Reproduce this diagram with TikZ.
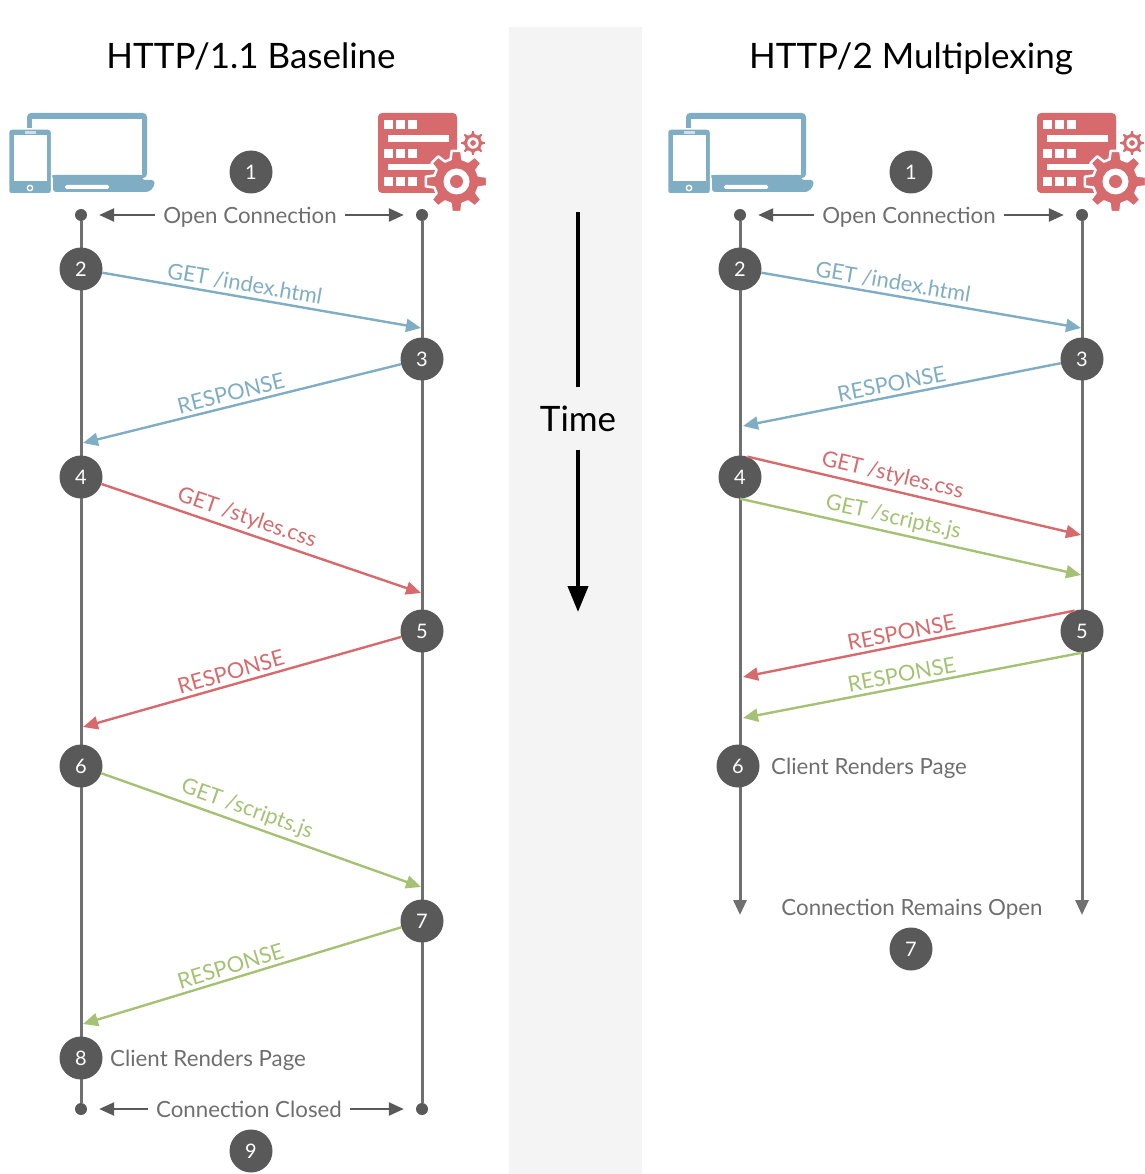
\documentclass[tikz,border=0pt]{standalone}
\usepackage{fontspec}
\setmainfont{Lato}
\usetikzlibrary{arrows.meta}
\definecolor{blueline}{HTML}{7FADC3}
\definecolor{redline}{HTML}{D66A6D}
\definecolor{greenline}{HTML}{A5C274}
\definecolor{darkbadge}{HTML}{595959}
\definecolor{laneline}{HTML}{707070}
\definecolor{greytext}{HTML}{6E6E6E}
\definecolor{bandgrey}{HTML}{F4F4F4}
\tikzset{
  badge/.style={circle,fill=darkbadge,text=white,minimum size=43pt,inner sep=0pt,font=\fontsize{20}{20}\selectfont},
  dot/.style={circle,fill=darkbadge,minimum size=12pt,inner sep=0pt},
  lane/.style={draw=laneline,line width=3pt},
  msg/.style={line width=2.4pt,-{Triangle[length=15pt,width=13pt]},color=#1},
  lbl/.style={sloped,above,inner sep=3.5pt,text=#1,font=\fontsize{21.8}{22}\selectfont},
  plain/.style={text=greytext,inner ysep=2pt,inner xsep=8pt,text depth=0pt,font=\fontsize{22.3}{23}\selectfont},
  title/.style={text=black,inner sep=0pt,anchor=base,font=\fontsize{35}{35}\selectfont},
  conn/.style={draw=darkbadge,line width=2.4pt,-{Triangle[length=15pt,width=13pt]},shorten >=12pt},
  pics/gear/.style={code={
    \path[fill=redline,draw=white,line width=2.5pt,line join=round] (-15:23)
      foreach \a in {0,45,...,315} { -- (\a-9:31) -- (\a+9:31) -- (\a+15:23) -- (\a+30:23) } -- cycle;
    \fill[white] (0,0) circle (13);
    \fill[redline] (0,0) circle (6.5);
  }},
  pics/device/.style={code={
    % laptop
    \fill[blueline,rounded corners=4pt] (27,113) rectangle (147,178);
    \fill[white] (32,119) rectangle (142,175);
    \fill[blueline,rounded corners=3pt] (53,175) -- (142,175) -- (142,180) -- (154.5,180) -- (154.5,186) -- (149,192) -- (53,192) -- cycle;
    \fill[white,rounded corners=1.5pt] (65,185) rectangle (109,189);
    % phone
    \fill[blueline,draw=white,line width=1.5pt,rounded corners=3pt] (8.5,129) rectangle (51.5,194);
    \fill[white] (14,135) rectangle (47,181);
    \fill[white!60!blueline] (25,131.5) rectangle (36,134);
    \draw[white,line width=1.3pt] (30,188) circle (2.7);
  }},
  pics/server/.style={code={
    \fill[redline,rounded corners=4pt] (378,113) rectangle (457,193);
    \fill[white] (388,135.5) rectangle (449,142);
    \fill[white] (388,164) rectangle (449,170);
    \foreach \y in {120.5,149,177.5}
      \foreach \x in {384,396,408}
        \fill[white] (\x,\y) rectangle ++(8.7,8.7);
    \pic[scale=.44] at (473,143) {gear};
    \pic at (456.5,181.5) {gear};
  }}
}
\begin{document}
\begin{tikzpicture}[x=1pt,y=-1pt]
\useasboundingbox (0,0) rectangle (1144,1174);
\fill[bandgrey] (509,27) rectangle (642,1174);
\node[title] (titleA) at (251,68.5) {HTTP/1.1 Baseline};
\node[title] (titleB) at (911,68.5) {HTTP/2 Multiplexing};
\pic at (0,0) {device};
\pic at (0,0) {server};
\pic at (659,0) {device};
\pic at (659,0) {server};
% time arrow
\node[inner sep=0pt,minimum height=62pt,font=\fontsize{35}{35}\selectfont] (time) at (578,418.5) {Time};
\coordinate (timetop) at (578,212);
\coordinate (timebot) at (578,612);
\draw[line width=4pt] (time) -- (timetop);
\draw[line width=4pt,-{Triangle[length=26pt,width=20pt]}] (time) -- (timebot);
% left lanes
\node[dot] (topA) at (81,215) {};
\node[dot] (topB) at (422,215) {};
\node[dot] (botA) at (81,1109) {};
\node[dot] (botB) at (422,1109) {};
\draw[lane] (topA) -- (botA);
\draw[lane] (topB) -- (botB);
% right lanes
\node[dot] (topC) at (740,215) {};
\node[dot] (topD) at (1082,215) {};
\coordinate (endC) at (740,915);
\coordinate (endD) at (1082,915);
\draw[lane,-{Triangle[length=15pt,width=13pt]}] (topC) -- (endC);
\draw[lane,-{Triangle[length=15pt,width=13pt]}] (topD) -- (endD);
% left badges
\node[badge] (a1) at (251,172) {1};
\node[badge] (a2) at (81,269) {2};
\node[badge] (a3) at (422,359) {3};
\node[badge] (a4) at (81,477) {4};
\node[badge] (a5) at (422,631) {5};
\node[badge] (a6) at (81,766) {6};
\node[badge] (a7) at (422,921) {7};
\node[badge] (a8) at (81,1058) {8};
\node[badge] (a9) at (251,1151) {9};
% right badges
\node[badge] (b1) at (911,172) {1};
\node[badge] (b2) at (740,269) {2};
\node[badge] (b3) at (1082,359) {3};
\node[badge] (b4) at (740,477) {4};
\node[badge] (b5) at (1082,631) {5};
\node[badge] (b6) at (738,766) {6};
\node[badge] (b7) at (911,949) {7};
% open and closed
\node[plain] (openA) at (250,215) {Open Connection};
\draw[conn] (openA) -- (topA);
\draw[conn] (openA) -- (topB);
\node[plain] (openB) at (909,215) {Open Connection};
\draw[conn] (openB) -- (topC);
\draw[conn] (openB) -- (topD);
\node[plain] (closedA) at (249,1109) {Connection Closed};
\draw[conn] (closedA) -- (botA);
\draw[conn] (closedA) -- (botB);
\node[plain,anchor=west,inner xsep=0pt] (renderA) at (110,1058) {Client Renders Page};
\node[plain,anchor=west,inner xsep=0pt] (renderB) at (771,766) {Client Renders Page};
\node[plain] (remains) at (912,907) {Connection Remains Open};
% left messages
\coordinate (ea1) at (421,328);
\coordinate (ea2) at (83,443);
\coordinate (ea3) at (421,593);
\coordinate (ea4) at (83,727);
\coordinate (ea5) at (421,887);
\coordinate (ea6) at (83,1024);
\draw[msg=blueline] (a2) -- (ea1) node[lbl=blueline,pos=.44] (la1) {GET /index.html};
\draw[msg=blueline] (a3) -- (ea2) node[lbl=blueline,pos=.525] (la2) {RESPONSE};
\draw[msg=redline] (a4) -- (ea3) node[lbl=redline,pos=.44] (la3) {GET /styles.css};
\draw[msg=redline] (a5) -- (ea4) node[lbl=redline,pos=.525] (la4) {RESPONSE};
\draw[msg=greenline] (a6) -- (ea5) node[lbl=greenline,pos=.44] (la5) {GET /scripts.js};
\draw[msg=greenline] (a7) -- (ea6) node[lbl=greenline,pos=.525] (la6) {RESPONSE};
% right messages
\coordinate (eb1) at (1081,328);
\coordinate (eb2) at (743,426);
\coordinate (eb3) at (1081,535);
\coordinate (eb4) at (1081,575);
\coordinate (eb5) at (743,677);
\coordinate (eb6) at (743,718);
\draw[msg=blueline] (b2) -- (eb1) node[lbl=blueline,pos=.405] (lb1) {GET /index.html};
\draw[msg=blueline] (b3) -- (eb2) node[lbl=blueline,pos=.525] (lb2) {RESPONSE};
\draw[msg=redline] (b4.70) -- (eb3) node[lbl=redline,pos=.425] (lb3) {GET /styles.css};
\draw[msg=greenline] (b4.south) -- (eb4) node[lbl=greenline,pos=.44] (lb4) {GET /scripts.js};
\draw[msg=redline] (b5.110) -- (eb5) node[lbl=redline,pos=.515] (lb5) {RESPONSE};
\draw[msg=greenline] (b5.south) -- (eb6) node[lbl=greenline,pos=.525] (lb6) {RESPONSE};
\end{tikzpicture}
\end{document}
